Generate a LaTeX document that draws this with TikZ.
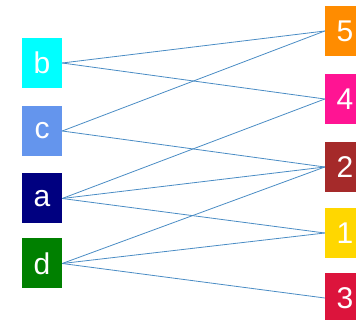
\documentclass[tikz,border=0pt]{standalone}
\usepackage{fontspec}
\setmainfont{Liberation Sans}
\definecolor{edgeblue}{HTML}{4A8CC4}
\definecolor{cyanbox}{HTML}{00FFFF}
\definecolor{cornflower}{HTML}{6495ED}
\definecolor{navybox}{HTML}{000080}
\definecolor{greenbox}{HTML}{008000}
\definecolor{orangebox}{HTML}{FF8C00}
\definecolor{pinkbox}{HTML}{FF1493}
\definecolor{brownbox}{HTML}{A52A2A}
\definecolor{goldbox}{HTML}{FFD700}
\definecolor{crimsonbox}{HTML}{DC143C}

\begin{document}
\begin{tikzpicture}[x=1pt, y=-1pt, every node/.style={rectangle, minimum width=40pt, minimum height=50pt, inner sep=0pt, text=white, font=\fontsize{30}{30}\selectfont}]
\useasboundingbox (0,0) rectangle (356,320);
\node[fill=cyanbox] (Nb) at (42,63) {b};
\node[fill=cornflower] (Nc) at (42,131) {c};
\node[fill=navybox] (Na) at (42,198.5) {a};
\node[fill=greenbox] (Nd) at (42,263.5) {d};
\node[fill=orangebox] (N5) at (345,31) {5};
\node[fill=pinkbox] (N4) at (345,99) {4};
\node[fill=brownbox] (N2) at (345,167) {2};
\node[fill=goldbox] (N1) at (345,233) {1};
\node[fill=crimsonbox] (N3) at (345,298) {3};
\draw[edgeblue, line width=0.8pt] (Nb.east) -- (N5.west);
\draw[edgeblue, line width=0.8pt] (Nb.east) -- (N4.west);
\draw[edgeblue, line width=0.8pt] (Nc.east) -- (N5.west);
\draw[edgeblue, line width=0.8pt] (Nc.east) -- (N2.west);
\draw[edgeblue, line width=0.8pt] (Na.east) -- (N4.west);
\draw[edgeblue, line width=0.8pt] (Na.east) -- (N2.west);
\draw[edgeblue, line width=0.8pt] (Na.east) -- (N1.west);
\draw[edgeblue, line width=0.8pt] (Nd.east) -- (N2.west);
\draw[edgeblue, line width=0.8pt] (Nd.east) -- (N1.west);
\draw[edgeblue, line width=0.8pt] (Nd.east) -- (N3.west);
\end{tikzpicture}
\end{document}
